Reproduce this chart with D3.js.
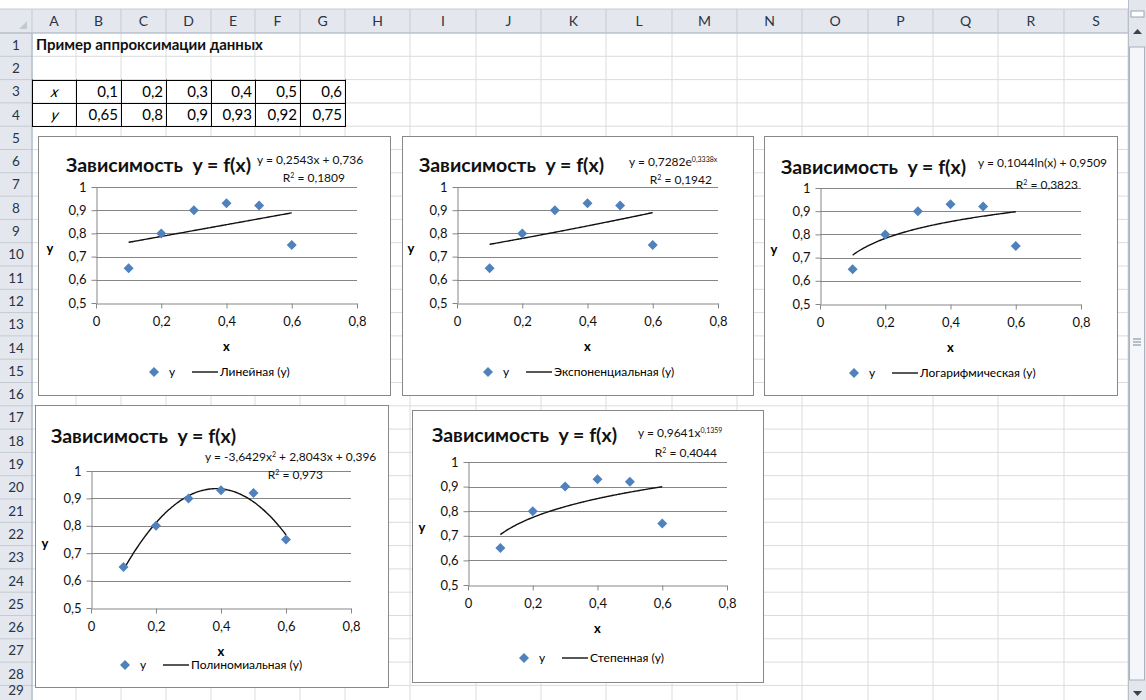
<!DOCTYPE html>
<html>
<head>
<meta charset="utf-8">
<script src="https://cdn.jsdelivr.net/npm/d3@7"></script>
<style>
	body { margin: 0; background: #fff; }
	svg { display: block; font-family: Lato, 'Open Sans', sans-serif; }
	text { white-space: pre; }
</style>
</head>
<body>
<div id="sheet"></div>
<script>
// spreadsheet data
const columnLetters = [ 'A', 'B', 'C', 'D', 'E', 'F', 'G', 'H', 'I', 'J', 'K', 'L', 'M', 'N', 'O', 'P', 'Q', 'R', 'S' ];
const rowNumbers = [ 1, 2, 3, 4, 5, 6, 7, 8, 9, 10, 11, 12, 13, 14, 15, 16, 17, 18, 19, 20, 21, 22, 23, 24, 25, 26, 27, 28, 29 ];
const sheetTitle = 'Пример аппроксимации данных';
const xLabels = [ '0,1', '0,2', '0,3', '0,4', '0,5', '0,6' ];
const yLabels = [ '0,65', '0,8', '0,9', '0,93', '0,92', '0,75' ];

// chart data
const xValues = [ 0.1, 0.2, 0.3, 0.4, 0.5, 0.6 ];
const yValues = [ 0.65, 0.8, 0.9, 0.93, 0.92, 0.75 ];
const xTicks = [ 0, 0.2, 0.4, 0.6, 0.8 ];
const yTicks = [ 0.5, 0.6, 0.7, 0.8, 0.9, 1 ];
const chartTitle = 'Зависимость  y = f(x)';
const trendTypes = [ 'linear', 'exp', 'log', 'poly', 'power' ];
const trendNames = [ 'Линейная (y)', 'Экспоненциальная (y)', 'Логарифмическая (y)', 'Полиномиальная (y)', 'Степенная (y)' ];
const trendCoefs = [ [ 0.2543, 0.736 ], [ 0.7282, 0.3338 ], [ 0.1044, 0.9509 ], [ -3.6429, 2.8043, 0.396 ], [ 0.9641, 0.1359 ] ];
const equations = [
	[ [ 'y = 0,2543x + 0,736' ] ],
	[ [ 'y = 0,7282e' ], [ '0,3338x', true ] ],
	[ [ 'y = 0,1044ln(x) + 0,9509' ] ],
	[ [ 'y = -3,6429x' ], [ '2', true ], [ ' + 2,8043x + 0,396' ] ],
	[ [ 'y = 0,9641x' ], [ '0,1359', true ] ]
];
const rSquared = [ '0,1809', '0,1942', '0,3823', '0,973', '0,4044' ];

// layout of sheet
const colEdges = [ 32, 76, 121, 166, 211, 255, 300, 345, 410, 476, 541, 606, 672, 737, 802, 868, 933, 998, 1064, 1128 ];
const headerTop = 9;
const headerBottom = 33;
const rowHeight = 23.3;

// layout of each chart: box, plot (x0 x1 y1 y05), title, eq, r2, legend
const layouts = [
	{ box: [ 38, 136, 390, 395 ], plot: [ 96, 357, 187, 303 ], title: [ 66, 172 ], eq: [ 257, 164 ], r2: [ 345, 182 ], legend: [ 154, 372 ] },
	{ box: [ 402, 136, 753, 395 ], plot: [ 457, 718, 187, 303 ], title: [ 419, 172 ], eq: [ 629, 166 ], r2: [ 712, 184 ], legend: [ 488, 372 ] },
	{ box: [ 764, 136, 1117, 395 ], plot: [ 820, 1081, 188, 304 ], title: [ 781, 174 ], eq: [ 978, 167 ], r2: [ 1078, 189 ], legend: [ 854, 373 ] },
	{ box: [ 35, 405, 388, 687 ], plot: [ 91, 351, 471, 608 ], title: [ 51, 443 ], eq: [ 205, 461 ], r2: [ 323, 479 ], legend: [ 125, 665 ] },
	{ box: [ 412, 410, 763, 682 ], plot: [ 468, 727, 462, 585 ], title: [ 432, 442 ], eq: [ 638, 437 ], r2: [ 717, 457 ], legend: [ 524, 658 ] }
];

const ruLocale = d3.formatLocale({ decimal: ',', thousands: ' ', grouping: [ 3 ], currency: [ '', '' ] });
const fmt = ruLocale.format('~g');
const markerColor = '#4f81bd';
const gridColor = '#868686';
const diamond = 'M0,-5L5,0L0,5L-5,0Z';

function trendValue(type, c, x) {
	if (type === 'linear') return c[0] * x + c[1];
	if (type === 'exp') return c[0] * Math.exp(c[1] * x);
	if (type === 'log') return c[0] * Math.log(x) + c[1];
	if (type === 'poly') return c[0] * x * x + c[1] * x + c[2];
	return c[0] * Math.pow(x, c[1]);
}

const svg = d3.select('#sheet').append('svg').attr('width', 1146).attr('height', 700);

// sheet background and grid
const rowTop = (r) => headerBottom + (r - 1) * rowHeight;

const grid = svg.append('g').attr('class', 'grid');
grid
	.selectAll('line.v')
	.data(colEdges)
	.enter()
	.append('line')
	.attr('x1', (d) => d)
	.attr('x2', (d) => d)
	.attr('y1', headerBottom)
	.attr('y2', 700)
	.attr('stroke', '#dadcdd');
grid
	.selectAll('line.h')
	.data(rowNumbers)
	.enter()
	.append('line')
	.attr('x1', 0)
	.attr('x2', 1128)
	.attr('y1', (d) => rowTop(d) + rowHeight)
	.attr('y2', (d) => rowTop(d) + rowHeight)
	.attr('stroke', '#dadcdd');

// row header
const rowHead = svg.append('g');
rowHead.append('rect').attr('x', 0).attr('y', headerBottom).attr('width', 32).attr('height', 700 - headerBottom).attr('fill', '#e4e8ee');
rowHead
	.selectAll('line')
	.data(rowNumbers)
	.enter()
	.append('line')
	.attr('x1', 0)
	.attr('x2', 32)
	.attr('y1', (d) => rowTop(d) + rowHeight)
	.attr('y2', (d) => rowTop(d) + rowHeight)
	.attr('stroke', '#c5cbd3');
rowHead
	.selectAll('text')
	.data(rowNumbers)
	.enter()
	.append('text')
	.attr('x', 16)
	.attr('y', (d) => Math.min(rowTop(d) + rowHeight / 2 + 5, 695))
	.attr('text-anchor', 'middle')
	.attr('font-size', 13.5)
	.attr('fill', '#2a3447')
	.text((d) => d);
rowHead.append('line').attr('x1', 32).attr('x2', 32).attr('y1', headerTop).attr('y2', 700).attr('stroke', '#9eaabb');

// column header
const colHead = svg.append('g');
colHead.append('rect').attr('x', 0).attr('y', headerTop).attr('width', 1128).attr('height', headerBottom - headerTop).attr('fill', '#e4e8ee');
colHead.append('line').attr('x1', 0).attr('x2', 1128).attr('y1', headerTop).attr('y2', headerTop).attr('stroke', '#c5cbd3');
colHead.append('line').attr('x1', 0).attr('x2', 1128).attr('y1', headerBottom).attr('y2', headerBottom).attr('stroke', '#9eaabb');
colHead.append('path').attr('d', 'M27,29L27,21L19,29Z').attr('fill', '#c3c9d1');
colHead
	.selectAll('line.sep')
	.data(colEdges)
	.enter()
	.append('line')
	.attr('x1', (d) => d)
	.attr('x2', (d) => d)
	.attr('y1', headerTop)
	.attr('y2', headerBottom)
	.attr('stroke', '#c5cbd3');
colHead
	.selectAll('text')
	.data(columnLetters)
	.enter()
	.append('text')
	.attr('x', (d, i) => (colEdges[i] + colEdges[i + 1]) / 2)
	.attr('y', 26)
	.attr('text-anchor', 'middle')
	.attr('font-size', 14)
	.attr('fill', '#2a3447')
	.text((d) => d);

// scrollbar
const scroll = svg.append('g');
scroll.append('rect').attr('x', 1128).attr('y', 0).attr('width', 18).attr('height', 700).attr('fill', '#e3e7ed');
scroll.append('line').attr('x1', 1128.5).attr('x2', 1128.5).attr('y1', 0).attr('y2', 700).attr('stroke', '#b7bfca');
scroll.append('rect').attr('x', 1131).attr('y', 11).attr('width', 13).attr('height', 6).attr('fill', '#fff').attr('stroke', '#9aa4b1');
scroll.append('path').attr('d', 'M1133,34L1137.5,29L1142,34Z').attr('fill', '#3b4250');
scroll.append('rect').attr('x', 1129.5).attr('y', 47).attr('width', 15).attr('height', 633).attr('fill', '#f4f6f9').attr('stroke', '#a9b2be');
scroll
	.selectAll('line.grip')
	.data([ 0, 3, 6 ])
	.enter()
	.append('line')
	.attr('x1', 1133)
	.attr('x2', 1141)
	.attr('y1', (d) => 339 + d)
	.attr('y2', (d) => 339 + d)
	.attr('stroke', '#7b8593');
scroll.append('path').attr('d', 'M1133,691L1137.5,696L1142,691Z').attr('fill', '#3b4250');

// sheet cells
svg
	.append('text')
	.attr('x', 36)
	.attr('y', rowTop(1) + 17)
	.attr('font-size', 15)
	.attr('font-weight', 'bold')
	.attr('fill', '#111')
	.text(sheetTitle);

const table = svg.append('g');
const tableRows = [ { name: 'x', values: xLabels }, { name: 'y', values: yLabels } ];
tableRows.forEach(function(row, r) {
	const top = rowTop(3 + r);
	table
		.append('text')
		.attr('x', (colEdges[0] + colEdges[1]) / 2)
		.attr('y', top + 17)
		.attr('text-anchor', 'middle')
		.attr('font-size', 15)
		.attr('font-style', 'italic')
		.attr('transform', `skewX(-12) translate(${(top + 17) * Math.tan(12 * Math.PI / 180)},0)`)
		.text(row.name);
	table
		.selectAll('text.v' + r)
		.data(row.values)
		.enter()
		.append('text')
		.attr('x', (d, i) => colEdges[i + 2] - 3)
		.attr('y', top + 17)
		.attr('text-anchor', 'end')
		.attr('font-size', 15)
		.text((d) => d);
});
table
	.selectAll('line.tv')
	.data(colEdges.slice(0, 8))
	.enter()
	.append('line')
	.attr('x1', (d) => d + 0.5)
	.attr('x2', (d) => d + 0.5)
	.attr('y1', rowTop(3))
	.attr('y2', rowTop(5))
	.attr('stroke', '#000');
table
	.selectAll('line.th')
	.data([ 3, 4, 5 ])
	.enter()
	.append('line')
	.attr('x1', colEdges[0])
	.attr('x2', colEdges[7] + 1)
	.attr('y1', (d) => Math.round(rowTop(d)) + 0.5)
	.attr('y2', (d) => Math.round(rowTop(d)) + 0.5)
	.attr('stroke', '#000');

// charts
layouts.forEach(function(lay, k) {
	const g = svg.append('g').attr('class', 'chart');
	g
		.append('rect')
		.attr('x', lay.box[0] + 0.5)
		.attr('y', lay.box[1] + 0.5)
		.attr('width', lay.box[2] - lay.box[0])
		.attr('height', lay.box[3] - lay.box[1])
		.attr('fill', '#fff')
		.attr('stroke', '#888');

	const x = d3.scaleLinear().domain([ 0, 0.8 ]).range([ lay.plot[0], lay.plot[1] ]);
	const y = d3.scaleLinear().domain([ 0.5, 1 ]).range([ lay.plot[3], lay.plot[2] ]);

	// gridlines
	g
		.selectAll('line.grid')
		.data(yTicks.slice(1))
		.enter()
		.append('line')
		.attr('x1', x(0))
		.attr('x2', x(0.8))
		.attr('y1', (d) => Math.round(y(d)) + 0.5)
		.attr('y2', (d) => Math.round(y(d)) + 0.5)
		.attr('stroke', gridColor);

	const yAxis = d3.axisLeft(y).tickValues(yTicks).tickFormat(fmt).tickSize(5).tickSizeOuter(0).tickPadding(5);
	const xAxis = d3.axisBottom(x).tickValues(xTicks).tickFormat(fmt).tickSize(5).tickSizeOuter(0).tickPadding(8);

	const ya = g.append('g').attr('transform', `translate(${Math.round(x(0)) + 0.5},0)`).call(yAxis);
	const xa = g.append('g').attr('transform', `translate(0,${Math.round(y(0.5)) + 0.5})`).call(xAxis);
	[ ya, xa ].forEach(function(a) {
		a.selectAll('path, line').attr('stroke', gridColor);
		a.selectAll('text').attr('font-family', 'Lato, sans-serif').attr('font-size', 13).attr('fill', '#111');
	});

	// axis titles
	g
		.append('text')
		.attr('x', x(0) - 46)
		.attr('y', (y(1) + y(0.5)) / 2 + 8)
		.attr('text-anchor', 'middle')
		.attr('font-size', 13)
		.attr('font-weight', 'bold')
		.text('y');
	g
		.append('text')
		.attr('x', (x(0) + x(0.8)) / 2)
		.attr('y', y(0.5) + 48)
		.attr('text-anchor', 'middle')
		.attr('font-size', 13)
		.attr('font-weight', 'bold')
		.text('x');

	// trend line
	const type = trendTypes[k];
	const xs = d3.range(0.1, 0.6001, 0.005);
	const line = d3.line().x((d) => x(d)).y((d) => y(trendValue(type, trendCoefs[k], d))).curve(d3.curveBasis);
	g.append('path').datum(xs).attr('d', line).attr('fill', 'none').attr('stroke', '#111').attr('stroke-width', 1.4);

	// markers
	g
		.selectAll('path.pt')
		.data(xValues)
		.enter()
		.append('path')
		.attr('d', diamond)
		.attr('transform', (d, i) => `translate(${x(d)},${y(yValues[i])})`)
		.attr('fill', markerColor);

	// title
	g
		.append('text')
		.attr('x', lay.title[0])
		.attr('y', lay.title[1])
		.attr('font-size', 19.5)
		.attr('font-weight', 'bold')
		.attr('fill', '#111')
		.text(chartTitle);

	// equation
	const eq = g.append('text').attr('x', lay.eq[0]).attr('y', lay.eq[1]).attr('font-size', 12).attr('fill', '#111');
	equations[k].forEach(function(seg) {
		const t = eq.append('tspan').text(seg[0]);
		if (seg[1]) t.attr('font-size', 7).attr('dy', -4);
		else if (eq.selectAll('tspan').size() > 1) t.attr('dy', 4);
	});
	const r2 = g.append('text').attr('x', lay.r2[0]).attr('y', lay.r2[1]).attr('text-anchor', 'end').attr('font-size', 12).attr('fill', '#111');
	r2.append('tspan').text('R');
	r2.append('tspan').attr('font-size', 7).attr('dy', -4).text('2');
	r2.append('tspan').attr('dy', 4).text(' = ' + rSquared[k]);

	// legend
	const lg = g.append('g').attr('transform', `translate(${lay.legend[0]},${lay.legend[1]})`);
	lg.append('path').attr('d', diamond).attr('fill', markerColor);
	lg.append('text').attr('x', 18).attr('y', 4).attr('text-anchor', 'middle').attr('font-size', 12).text('y');
	lg.append('line').attr('x1', 38).attr('x2', 64).attr('y1', 0).attr('y2', 0).attr('stroke', '#111').attr('stroke-width', 1.4);
	lg.append('text').attr('x', 66).attr('y', 4).attr('font-size', 12).text(trendNames[k]);
});
</script>
</body>
</html>
